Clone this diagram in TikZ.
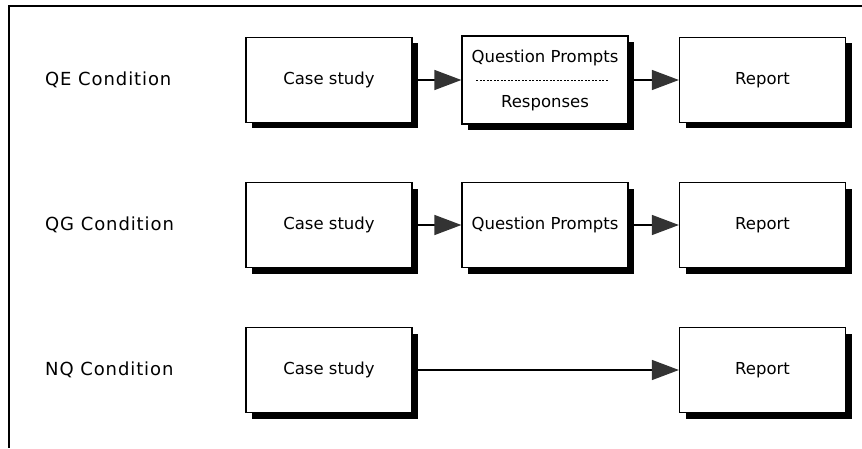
\documentclass[tikz,border=0pt]{standalone}
\usepackage{fontspec}
\setmainfont{DejaVu Sans}
\usetikzlibrary{arrows.meta,shadows}
\tikzset{
  stage/.style = {draw, fill=white, line width=1.2pt,
                  minimum width=166pt, minimum height=#1,
                  inner sep=0pt,
                  drop shadow={shadow xshift=6pt, shadow yshift=-6pt,
                               fill=black, opacity=1}},
  stage/.default = 85pt,
  flow/.style = {line width=1.3pt,
                 -{Triangle[length=27pt, width=20pt, fill=black!80, color=black!80]}},
  cond/.style = {anchor=west, inner sep=0pt,
                 font=\fontsize{18}{20}\selectfont\addfontfeatures{LetterSpace=5}}
}

\begin{document}
\begin{tikzpicture}[x=1pt, y=1pt, font=\fontsize{16.5}{19}\selectfont]
	\def \h{145}
	\def \rowy{368}
	\def \csx{329}
	\def \qpx{545}
	\def \rpx{762.5}
	
	\useasboundingbox (0,0) rectangle (862,448);
	
	% Frame
	\draw[line width=1.5] (862,442) -- (9,442) -- (9,0);
	
	% Condition names
	\node[cond] (qe) at (45, \rowy)      {QE Condition};
	\node[cond] (qg) at (45, \rowy-\h)   {QG Condition};
	\node[cond] (nq) at (45, \rowy-2*\h) {NQ Condition};
	
	% QE row
	\node[stage] (qe-case) at (\csx, \rowy) {Case study};
	\node[stage=88pt, align=center] (qe-prompt) at (\qpx, \rowy) {Question Prompts\\[26pt]Responses};
	\node[stage] (qe-report) at (\rpx, \rowy) {Report};
	\draw[dash pattern=on 2pt off 1.5pt, line width=0.8]
		([xshift=15pt]qe-prompt.west) -- ([xshift=-21pt]qe-prompt.east);
	
	% QG row
	\node[stage] (qg-case) at (\csx, \rowy-\h) {Case study};
	\node[stage] (qg-prompt) at (\qpx, \rowy-\h) {Question Prompts};
	\node[stage] (qg-report) at (\rpx, \rowy-\h) {Report};
	
	% NQ row
	\node[stage] (nq-case) at (\csx, \rowy-2*\h) {Case study};
	\node[stage] (nq-report) at (\rpx, \rowy-2*\h) {Report};
	
	% Arrows
	\draw[flow] (qe-case) -- (qe-prompt);
	\draw[flow] (qe-prompt) -- (qe-report);
	\draw[flow] (qg-case) -- (qg-prompt);
	\draw[flow] (qg-prompt) -- (qg-report);
	\draw[flow] (nq-case) -- (nq-report);
	
\end{tikzpicture}
\end{document}
